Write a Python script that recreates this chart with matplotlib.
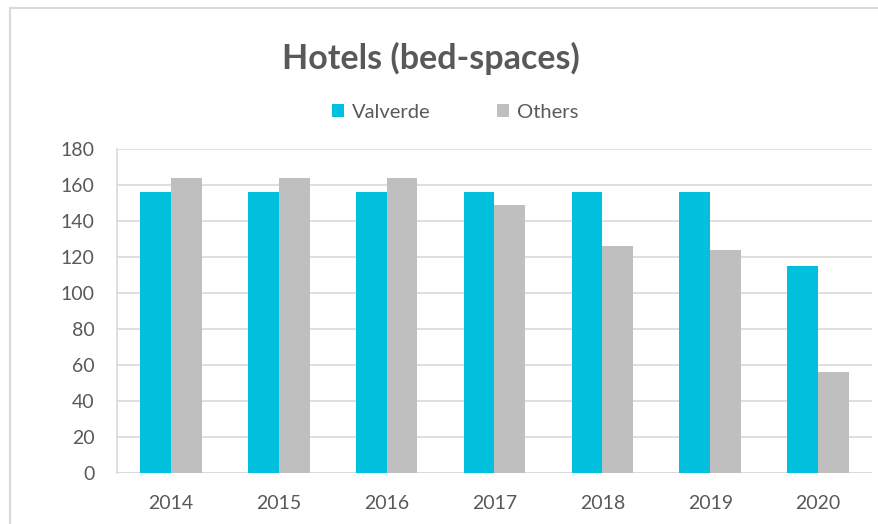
import matplotlib
matplotlib.use("Agg")
import matplotlib.pyplot as plt
import numpy as np
from matplotlib.lines import Line2D

years = ["2014", "2015", "2016", "2017", "2018", "2019", "2020"]
valverde = [156, 156, 156, 156, 156, 156, 115]
others = [164, 164, 164, 149, 126, 124, 56]
yticks = [0, 20, 40, 60, 80, 100, 120, 140, 160, 180]

plt.rcParams['font.family'] = ['Lato', 'DejaVu Sans']
text_color = "#595959"
grid_color = "#D9D9D9"

fig = plt.figure(figsize=(8.79, 5.24), dpi=100)
ax = fig.add_axes([117/879, 51/524, (872-117)/879, (473-149)/524])

x = np.arange(len(years))
w = 1/3.5
ax.bar(x - w/2, valverde, width=w, color="#00C0DE", label="Valverde", zorder=3)
ax.bar(x + w/2, others, width=w, color="#BFBFBF", label="Others", zorder=3)

ax.set_xlim(-0.5, len(years) - 0.5)
ax.set_ylim(0, 180)
ax.set_yticks(yticks)
ax.set_xticks(x)
ax.set_xticklabels(years)
ax.yaxis.grid(True, color=grid_color, linewidth=1.2, zorder=0)
for s in ["top", "right", "bottom"]:
    ax.spines[s].set_visible(False)
ax.spines["left"].set_color(grid_color)
ax.spines["left"].set_linewidth(1.2)
ax.tick_params(axis="both", length=0, colors=text_color, labelsize=14)
ax.tick_params(axis="y", pad=16)
ax.tick_params(axis="x", pad=16)
ax.axhline(0, color=grid_color, linewidth=1.2, zorder=1)

fig.text(431/879, 1 - 58/524, "Hotels (bed-spaces)", ha="center", va="center",
         fontsize=24.5, fontweight="bold", color=text_color)

leg = fig.legend(loc="center", bbox_to_anchor=(455/879, 1 - 112/524), ncol=2,
                 frameon=False, fontsize=14.5, handlelength=0.6, handleheight=0.6,
                 handletextpad=0.4, columnspacing=3.3, labelcolor=text_color)

# outer chart border
fig.add_artist(Line2D([10/879, 10/879], [0, 1 - 8/524], color=grid_color, linewidth=1.5,
                      transform=fig.transFigure))
fig.add_artist(Line2D([10/879, 1], [1 - 8/524, 1 - 8/524], color=grid_color, linewidth=1.5,
                      transform=fig.transFigure))

fig.savefig("out.png", dpi=100)
